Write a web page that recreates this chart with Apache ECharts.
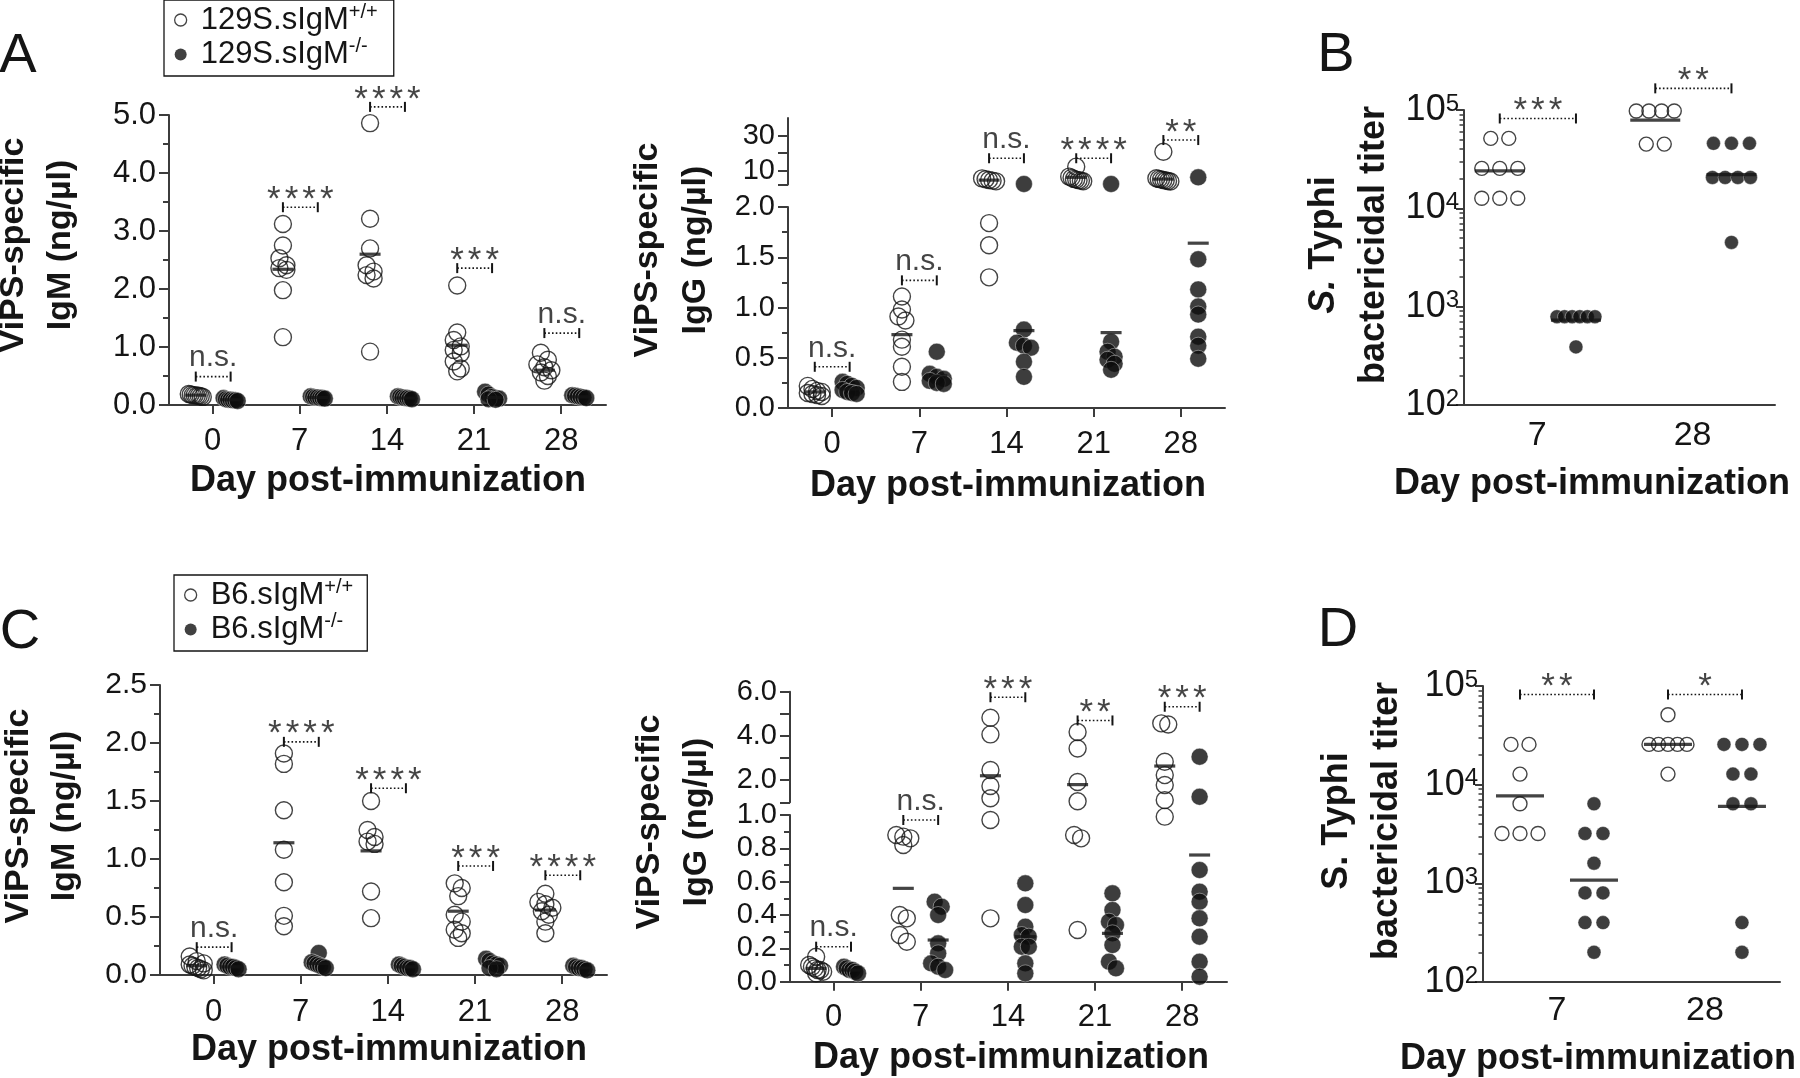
<!DOCTYPE html>
<html><head><meta charset="utf-8">
<script src="https://cdn.jsdelivr.net/npm/echarts@6/dist/echarts.min.js"></script>
<style>html,body{margin:0;padding:0;background:#fff}#c{width:1800px;height:1078px}</style>
</head><body><div id="c"></div>
<script>
// ================= DATA =================
const dayTicks = [0, 7, 14, 21, 28];
const dayTickLabels = ['0', '7', '14', '21', '28'];
const titerTicks = [0, 1];
const titerTickLabels = ['7', '28'];

const names129 = ['129S.sIgM', '129S.sIgM'];
const namesB6 = ['B6.sIgM', 'B6.sIgM'];
const supers = ['+/+', '-/-'];

// Panel A, left: ViPS-specific IgM (129S)
const aIgM_wt = [
  [0.19, 0.18, 0.17, 0.17, 0.16, 0.16, 0.15, 0.14],
  [3.12, 2.75, 2.53, 2.41, 2.36, 2.33, 1.98, 1.17],
  [4.86, 3.21, 2.70, 2.41, 2.30, 2.24, 2.18, 0.92],
  [2.06, 1.25, 1.12, 1.01, 0.95, 0.89, 0.75, 0.63, 0.58],
  [0.90, 0.78, 0.70, 0.65, 0.60, 0.56, 0.50, 0.42]
];
const aIgM_ko = [
  [0.12, 0.10, 0.09, 0.09, 0.08, 0.08, 0.07],
  [0.15, 0.14, 0.13, 0.13, 0.12, 0.12, 0.11],
  [0.15, 0.14, 0.13, 0.12, 0.12, 0.11, 0.10],
  [0.23, 0.18, 0.14, 0.12, 0.11, 0.10, 0.09],
  [0.17, 0.16, 0.15, 0.14, 0.13, 0.12]
];
const aIgM_wtMean = [0.17, 2.34, 2.60, 1.03, 0.60];
const aIgM_koMean = [0.09, 0.13, 0.12, 0.13, 0.14];
const aIgM_sigY = [0.49, 3.41, 5.14, 2.36, 1.24];
const aIgM_sig = ['n.s.', '****', '****', '***', 'n.s.'];

// Panel A, right: ViPS-specific IgG (129S) (broken axis)
const aIgG_wt = [
  [0.22, 0.19, 0.17, 0.16, 0.15, 0.14, 0.13, 0.12],
  [1.11, 0.98, 0.91, 0.87, 0.68, 0.61, 0.41, 0.26],
  [5.5, 5.0, 4.6, 4.2, 3.8, 1.84, 1.62, 1.30],
  [12.2, 6.5, 5.8, 5.2, 4.8, 4.5, 4.2, 3.9],
  [20.7, 5.6, 5.2, 4.9, 4.6, 4.3, 4.0, 3.7]
];
const aIgG_ko = [
  [0.26, 0.24, 0.22, 0.20, 0.18, 0.16, 0.15, 0.14],
  [0.56, 0.34, 0.31, 0.29, 0.27, 0.25, 0.24],
  [2.3, 0.78, 0.65, 0.62, 0.60, 0.46, 0.31],
  [2.3, 0.66, 0.56, 0.51, 0.48, 0.44, 0.38],
  [6.1, 1.48, 1.18, 1.01, 0.93, 0.71, 0.62, 0.49]
];
const aIgG_wtMean = [0.16, 0.73, 4.5, 6.1, 5.1];
const aIgG_koMean = [0.19, 0.32, 0.77, 0.75, 1.64];
const aIgG_sigY = [0.41, 1.27, 17, 17, 27.4];
const aIgG_sig = ['n.s.', 'n.s.', 'n.s.', '****', '**'];

// Panel B: S. Typhi bactericidal titer (129S)
const bTiter_wt = [
  [51500, 51500, 25500, 25500, 25500, 12650, 12650, 12650],
  [97700, 97700, 97700, 97700, 45000, 45000]
];
const bTiter_ko = [
  [790, 790, 790, 790, 790, 790, 390],
  [45800, 45800, 45800, 20600, 20600, 20600, 20600, 4500]
];
const bTiter_wtMean = [24000, 79000];
const bTiter_koMean = [730, 22000];
const bTiter_sigY = [82000, 166000];
const bTiter_sig = ['***', '**'];

// Panel C, left: ViPS-specific IgM (B6)
const cIgM_wt = [
  [0.16, 0.12, 0.10, 0.09, 0.08, 0.07, 0.06, 0.05, 0.04],
  [1.91, 1.82, 1.42, 1.08, 0.80, 0.51, 0.42],
  [1.50, 1.25, 1.19, 1.15, 1.13, 0.72, 0.49],
  [0.79, 0.75, 0.68, 0.52, 0.46, 0.39, 0.36, 0.32],
  [0.70, 0.63, 0.61, 0.58, 0.55, 0.52, 0.46, 0.36]
];
const cIgM_ko = [
  [0.09, 0.08, 0.07, 0.07, 0.06, 0.05],
  [0.19, 0.11, 0.10, 0.09, 0.08, 0.07, 0.06],
  [0.09, 0.08, 0.07, 0.06, 0.06, 0.05],
  [0.14, 0.12, 0.10, 0.09, 0.08, 0.06, 0.05],
  [0.08, 0.07, 0.06, 0.06, 0.05, 0.04]
];
const cIgM_wtMean = [0.08, 1.14, 1.07, 0.55, 0.56];
const cIgM_koMean = [0.07, 0.10, 0.07, 0.10, 0.06];
const cIgM_sigY = [0.24, 2.01, 1.61, 0.94, 0.86];
const cIgM_sig = ['n.s.', '****', '****', '***', '****'];

// Panel C, right: ViPS-specific IgG (B6) (broken axis)
const cIgG_wt = [
  [0.15, 0.10, 0.09, 0.08, 0.07, 0.07, 0.06, 0.05],
  [0.88, 0.87, 0.86, 0.82, 0.40, 0.38, 0.28, 0.24],
  [4.82, 4.07, 2.46, 1.74, 1.18, 0.97, 0.38],
  [4.18, 3.43, 1.92, 1.05, 0.88, 0.86, 0.31],
  [4.57, 4.52, 2.83, 2.23, 1.78, 1.10, 0.99]
];
const cIgG_ko = [
  [0.09, 0.08, 0.07, 0.07, 0.06, 0.05],
  [0.48, 0.45, 0.40, 0.23, 0.17, 0.11, 0.09, 0.07],
  [0.59, 0.46, 0.33, 0.28, 0.27, 0.21, 0.21, 0.11, 0.05],
  [0.53, 0.43, 0.36, 0.34, 0.29, 0.22, 0.12, 0.08],
  [3.06, 1.25, 0.67, 0.54, 0.48, 0.38, 0.27, 0.12, 0.03]
];
const cIgG_wtMean = [0.08, 0.56, 2.2, 1.8, 2.64];
const cIgG_koMean = [0.07, 0.25, 0.27, 0.29, 0.76];
const cIgG_sigY = [0.21, 0.97, 5.75, 4.7, 5.32];
const cIgG_sig = ['n.s.', 'n.s.', '***', '**', '***'];

// Panel D: S. Typhi bactericidal titer (B6)
const dTiter_wt = [
  [25600, 25600, 12800, 6400, 3200, 3200, 3200],
  [51200, 25600, 25600, 25600, 25600, 25600, 12800]
];
const dTiter_ko = [
  [6400, 3200, 3200, 1600, 800, 800, 400, 400, 200],
  [25600, 25600, 25600, 12800, 12800, 6400, 6400, 400, 200]
];
const dTiter_wtMean = [7700, 25600];
const dTiter_koMean = [1080, 6030];
const dTiter_sigY = [82000, 82000];
const dTiter_sig = ['**', '*'];

// ================= STYLE / LAYOUT =================
const FONT = '"Liberation Sans", Arial, Helvetica, sans-serif';
const INK = '#151515';
const AXC = '#3c3c3c';
const OPEN = { color: 'rgba(255,255,255,0)', borderColor: INK, borderWidth: 1.4 };
const FILL = { color: '#0d0d0d', borderColor: 'rgba(255,255,255,0.85)', borderWidth: 0.6 };

const grids = [], xAxes = [], yAxes = [], series = [], graphics = [];

function yPx(s, v) {
  if (s.log) {
    const a = Math.log10(s.min), b = Math.log10(s.max);
    return s.top + s.height * (b - Math.log10(v)) / (b - a);
  }
  return s.top + s.height * (s.max - v) / (s.max - s.min);
}

// simple beeswarm: rows of near-equal values are spread horizontally, centred
function swarm(vals, cx, pxX, s, opt) {
  const idx = vals.map((v, i) => i).sort((a, b) => yPx(s, vals[a]) - yPx(s, vals[b]));
  const out = new Array(vals.length);
  let row = [], start = 0;
  const flush = () => {
    const n = row.length;
    const step = n > 1 ? Math.min(opt.step, opt.maxW / (n - 1)) : 0;
    row.forEach((i, k) => { out[i] = cx + (k - (n - 1) / 2) * step / pxX; });
    row = [];
  };
  idx.forEach(i => {
    const p = yPx(s, vals[i]);
    if (row.length && p - start > opt.thr) flush();
    if (!row.length) start = p;
    row.push(i);
  });
  flush();
  return out;
}

function logLabel(v) {
  return '{b|10}{s|' + Math.round(Math.log10(v)) + '}';
}

function buildPanel(cfg, d) {
  const pxX = cfg.width / (cfg.xMax - cfg.xMin);
  const tickLine = { color: AXC, width: 2 };
  cfg.segs.forEach((s, si) => {
    s.grid = grids.length;
    grids.push({ left: cfg.left, top: s.top, width: cfg.width, height: s.height });
    s.xi = xAxes.length;
    xAxes.push({
      gridIndex: s.grid, type: 'value', min: cfg.xMin, max: cfg.xMax, show: si === 0,
      axisLine: { show: true, onZero: false, lineStyle: { color: AXC, width: 2 } },
      axisTick: { show: cfg.xTick, customValues: d.x, length: 9, lineStyle: tickLine },
      axisLabel: {
        customValues: d.x, margin: cfg.xLabMargin, fontSize: cfg.xLabSize, color: INK, fontFamily: FONT,
        formatter: v => { const k = d.x.indexOf(v); return k >= 0 ? d.labels[k] : ''; }
      },
      splitLine: { show: false }
    });
    s.yi = yAxes.length;
    if (s.log) {
      const major = [100, 1000, 10000, 100000];
      const minor = [];
      for (let e = 2; e < 5; e++) for (let m = 2; m <= 9; m++) minor.push(m * Math.pow(10, e));
      yAxes.push({
        gridIndex: s.grid, type: 'log', logBase: 10, min: s.min, max: s.max, position: 'left',
        axisLine: { show: true, onZero: false, lineStyle: { color: AXC, width: 2 } },
        axisTick: { show: true, customValues: major, length: 8, lineStyle: tickLine },
        axisLabel: {
          customValues: major, margin: cfg.yLabMargin, formatter: logLabel, color: INK, fontFamily: FONT,
          rich: {
            b: { fontSize: 36, lineHeight: 36, fontFamily: FONT, color: INK },
            s: { fontSize: 24, lineHeight: 22, verticalAlign: 'top', fontFamily: FONT, color: INK }
          }
        },
        splitLine: { show: false }
      });
      yAxes.push({
        gridIndex: s.grid, type: 'log', logBase: 10, min: s.min, max: s.max, position: 'left', offset: 0,
        axisLine: { show: false, onZero: false },
        axisTick: { show: true, customValues: minor, length: 4.5, lineStyle: { color: AXC, width: 1.5 } },
        axisLabel: { show: false }, splitLine: { show: false }
      });
    } else {
      const y = {
        gridIndex: s.grid, type: 'value', min: s.min, max: s.max, position: 'left',
        axisLine: { show: true, onZero: false, lineStyle: { color: AXC, width: 2 } },
        axisTick: { show: true, length: 10, lineStyle: tickLine },
        minorTick: { show: !!s.minor, splitNumber: s.minor || 5, length: 6, lineStyle: tickLine },
        axisLabel: {
          margin: cfg.yLabMargin, fontSize: cfg.yLabSize, color: INK, fontFamily: FONT,
          formatter: v => Number(v).toFixed(s.digits)
        },
        splitLine: { show: false }, minorSplitLine: { show: false }
      };
      if (s.interval) y.interval = s.interval;
      if (s.ticks) y.axisTick.customValues = s.ticks;
      if (s.labels) y.axisLabel.customValues = s.labels;
      yAxes.push(y);
    }
  });

  const route = v => (cfg.segs.length > 1 && v > cfg.segs[0].max) ? cfg.segs[1] : cfg.segs[0];
  const groups = [
    { vals: d.wt, mean: d.wtMean, off: cfg.offW, style: OPEN, name: d.names[0] + supers[0] },
    { vals: d.ko, mean: d.koMean, off: cfg.offK, style: FILL, name: d.names[1] + supers[1] }
  ];
  groups.forEach(g => {
    const pts = cfg.segs.map(() => []);
    const means = cfg.segs.map(() => []);
    g.vals.forEach((vals, di) => {
      const cx = d.x[di] + g.off;
      cfg.segs.forEach((s, si) => {
        const sub = vals.filter(v => route(v) === s);
        const xs = swarm(sub, cx, pxX, s, cfg.swarm);
        sub.forEach((v, k) => pts[si].push([xs[k], v]));
      });
      const ms = route(g.mean[di]);
      means[cfg.segs.indexOf(ms)].push([cx, g.mean[di]]);
    });
    cfg.segs.forEach((s, si) => {
      series.push({
        type: 'scatter', name: g.name, xAxisIndex: s.xi, yAxisIndex: s.yi, data: pts[si],
        symbol: 'circle', symbolSize: cfg.sym, itemStyle: g.style, z: 3, silent: true, clip: false
      });
      series.push({
        type: 'scatter', name: 'mean', xAxisIndex: s.xi, yAxisIndex: s.yi, data: means[si],
        symbol: 'rect', symbolSize: [cfg.meanW, 3.2], itemStyle: { color: INK }, z: 4, silent: true, clip: false
      });
    });
  });

  // significance brackets
  const labSeg = cfg.segs.map(() => []);
  d.sigY.forEach((y, di) => {
    const s = route(y);
    const x1 = d.x[di] + cfg.offW, x2 = d.x[di] + cfg.offK;
    series.push({
      type: 'line', name: 'bracket', xAxisIndex: s.xi, yAxisIndex: s.yi, data: [[x1, y], [x2, y]],
      symbol: 'rect', symbolSize: [2, 10], showSymbol: true, itemStyle: { color: INK },
      lineStyle: { color: INK, width: 1.6, type: [1.6, 2.2] }, z: 5, silent: true, clip: false
    });
    const t = d.sig[di];
    const star = t.indexOf('*') >= 0;
    labSeg[cfg.segs.indexOf(s)].push({
      value: [(x1 + x2) / 2, y],
      label: star
        ? { formatter: t.split('').map(() => '{st|*}').join(''), distance: -11 }
        : { formatter: t, distance: 3 }
    });
  });
  cfg.segs.forEach((s, si) => {
    series.push({
      type: 'scatter', name: 'sig', xAxisIndex: s.xi, yAxisIndex: s.yi, data: labSeg[si],
      symbolSize: 1, itemStyle: { color: 'rgba(0,0,0,0)' }, z: 6, silent: true, clip: false,
      label: {
        show: true, position: 'top', fontSize: 30, color: INK, fontFamily: FONT,
        rich: { st: { fontSize: 35, padding: [0, 2, 0, 2], color: INK, fontFamily: FONT } }
      }
    });
  });
}

const dotSwarm = { thr: 7, step: 7, maxW: 14 };
const titerSwarm = { thr: 6, step: 18, maxW: 38 };

buildPanel({
  left: 169, width: 437, xMin: -3.5, xMax: 31.6, offW: -1.35, offK: 1.45, sym: 17, meanW: 21,
  xTick: true, xLabSize: 31, xLabMargin: 21, yLabSize: 31, yLabMargin: 13, swarm: dotSwarm,
  segs: [{ top: 115, height: 290, min: 0, max: 5, interval: 1, minor: 2, digits: 1 }]
}, { x: dayTicks, labels: dayTickLabels, wt: aIgM_wt, ko: aIgM_ko, wtMean: aIgM_wtMean, koMean: aIgM_koMean, sigY: aIgM_sigY, sig: aIgM_sig, names: names129 });

buildPanel({
  left: 788, width: 437, xMin: -3.55, xMax: 31.55, offW: -1.4, offK: 1.4, sym: 17, meanW: 21,
  xTick: true, xLabSize: 31, xLabMargin: 21, yLabSize: 29, yLabMargin: 13, swarm: dotSwarm,
  segs: [
    { top: 207, height: 201, min: 0, max: 2, interval: 0.5, minor: 2, digits: 1 },
    { top: 118, height: 66.5, min: 2, max: 40, ticks: [2, 10, 20, 30], labels: [10, 30], digits: 0 }
  ]
}, { x: dayTicks, labels: dayTickLabels, wt: aIgG_wt, ko: aIgG_ko, wtMean: aIgG_wtMean, koMean: aIgG_koMean, sigY: aIgG_sigY, sig: aIgG_sig, names: names129 });

buildPanel({
  left: 1464, width: 311, xMin: -0.47, xMax: 1.53, offW: -0.24, offK: 0.25, sym: 14, meanW: 50,
  xTick: false, xLabSize: 34, xLabMargin: 14, yLabMargin: 5, swarm: titerSwarm,
  segs: [{ top: 110, height: 295, log: true, min: 100, max: 100000 }]
}, { x: titerTicks, labels: titerTickLabels, wt: bTiter_wt, ko: bTiter_ko, wtMean: bTiter_wtMean, koMean: bTiter_koMean, sigY: bTiter_sigY, sig: bTiter_sig, names: names129 });

buildPanel({
  left: 160, width: 447, xMin: -4.3, xMax: 31.6, offW: -1.35, offK: 1.45, sym: 17, meanW: 21,
  xTick: true, xLabSize: 31, xLabMargin: 22, yLabSize: 30, yLabMargin: 13, swarm: dotSwarm,
  segs: [{ top: 685, height: 290, min: 0, max: 2.5, interval: 0.5, minor: 2, digits: 1 }]
}, { x: dayTicks, labels: dayTickLabels, wt: cIgM_wt, ko: cIgM_ko, wtMean: cIgM_wtMean, koMean: cIgM_koMean, sigY: cIgM_sigY, sig: cIgM_sig, names: namesB6 });

buildPanel({
  left: 790, width: 437, xMin: -3.5, xMax: 31.6, offW: -1.4, offK: 1.4, sym: 17, meanW: 21,
  xTick: true, xLabSize: 31, xLabMargin: 20, yLabSize: 29, yLabMargin: 13, swarm: dotSwarm,
  segs: [
    { top: 815, height: 166.7, min: 0, max: 1, interval: 0.2, minor: 2, digits: 1 },
    { top: 691.7, height: 110.6, min: 1, max: 6, interval: 1, labels: [2, 4, 6], digits: 1 }
  ]
}, { x: dayTicks, labels: dayTickLabels, wt: cIgG_wt, ko: cIgG_ko, wtMean: cIgG_wtMean, koMean: cIgG_koMean, sigY: cIgG_sigY, sig: cIgG_sig, names: namesB6 });

buildPanel({
  left: 1483, width: 297, xMin: -0.5, xMax: 1.507, offW: -0.25, offK: 0.25, sym: 14, meanW: 48,
  xTick: false, xLabSize: 34, xLabMargin: 12, yLabMargin: 5, swarm: titerSwarm,
  segs: [{ top: 686, height: 296, log: true, min: 100, max: 100000 }]
}, { x: titerTicks, labels: titerTickLabels, wt: dTiter_wt, ko: dTiter_ko, wtMean: dTiter_wtMean, koMean: dTiter_koMean, sigY: dTiter_sigY, sig: dTiter_sig, names: namesB6 });

// ---- text: panel letters, axis titles ----
function txt(t, x, y, size, opts) {
  opts = opts || {};
  const el = {
    type: 'text', x: x, y: y, rotation: opts.rot ? Math.PI / 2 : 0, silent: true, z: 10,
    style: {
      text: t, fontSize: size, fontWeight: opts.bold ? 'bold' : 'normal', fontFamily: FONT, fill: INK,
      textAlign: 'center', textVerticalAlign: 'middle', align: 'center', verticalAlign: 'middle'
    }
  };
  if (opts.rich) el.style.rich = opts.rich;
  graphics.push(el);
}
[['A', 18, 57], ['B', 1336, 56], ['C', 20, 633], ['D', 1338, 631]].forEach(a => txt(a[0], a[1], a[2], 56));

const yTitleDefs = [
  { t: ['ViPS-specific', 'IgM (ng/µl)'], x: [14, 61], y: 245, size: 34 },
  { t: ['ViPS-specific', 'IgG (ng/µl)'], x: [648, 696], y: 250, size: 34 },
  { t: ['{i|S.} Typhi', 'bactericidal titer'], x: [1324, 1374], y: 245, size: 36 },
  { t: ['ViPS-specific', 'IgM (ng/µl)'], x: [19, 65], y: 816, size: 34 },
  { t: ['ViPS-specific', 'IgG (ng/µl)'], x: [650, 697], y: 822, size: 34 },
  { t: ['S. Typhi', 'bactericidal titer'], x: [1337, 1387], y: 821, size: 36 }
];
yTitleDefs.forEach(d => d.t.forEach((line, k) => txt(line, d.x[k], d.y, d.size, {
  bold: true, rot: true,
  rich: { i: { fontStyle: 'italic', fontWeight: 'bold', fontSize: d.size, fontFamily: FONT, fill: INK, color: INK } }
})));
[[388, 481], [1008, 486], [1592, 484], [389, 1050], [1011, 1058], [1598, 1059]].forEach(p =>
  txt('Day post-immunization', p[0], p[1], 36, { bold: true }));

function legendFor(left, top, names, padR) {
  const full = names.map((n, i) => n + supers[i]);
  return {
    left: left, top: top, orient: 'vertical', selectedMode: false,
    data: [
      { name: full[0], icon: 'circle', itemStyle: { color: '#fff', borderColor: INK, borderWidth: 1.3 } },
      { name: full[1], icon: 'circle', itemStyle: { color: '#111', borderWidth: 0 } }
    ],
    itemWidth: 12, itemHeight: 12, itemGap: 1, padding: [2, padR, 6, 10],
    borderColor: INK, borderWidth: 1.3, backgroundColor: '#fff',
    formatter: n => { const i = full.indexOf(n); return '{b|' + names[i] + '}{s|' + supers[i] + '}'; },
    textStyle: {
      rich: {
        b: { fontSize: 31, lineHeight: 36, fontFamily: FONT, color: INK, padding: [0, 0, 0, 9] },
        s: { fontSize: 20, lineHeight: 18, verticalAlign: 'top', fontFamily: FONT, color: INK }
      }
    }
  };
}

const chart = echarts.init(document.getElementById('c'), null, { renderer: 'canvas' });
chart.setOption({
  backgroundColor: '#fff',
  animation: false,
  textStyle: { fontFamily: FONT },
  grid: grids, xAxis: xAxes, yAxis: yAxes, series: series,
  legend: [legendFor(164, 0, names129, 16), legendFor(174, 575, namesB6, 14)],
  graphic: graphics
});
</script></body></html>
